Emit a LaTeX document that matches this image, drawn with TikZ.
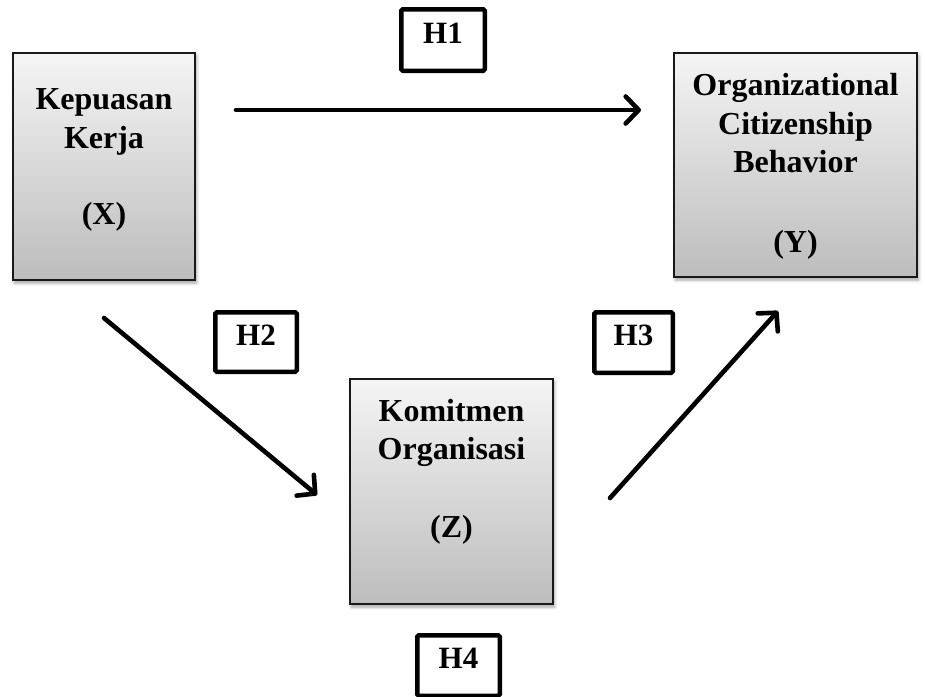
\documentclass[tikz,border=0pt]{standalone}
\usepackage{fontspec}
\setmainfont{Liberation Serif}
\usetikzlibrary{arrows.meta,shadows,shadows.blur}
\tikzset{
  mainbox/.style={draw=black!90, line width=1.6pt, top color=black!4, bottom color=black!26,
    blur shadow={shadow xshift=1.5pt, shadow yshift=-3pt, shadow blur radius=3pt, shadow opacity=35},
    inner sep=0pt},
  hbox/.style={draw=black, line width=4.5pt, rounded corners=1.5pt, fill=white,
    font=\fontsize{31}{35}\selectfont\bfseries, text height=0.66em, text depth=0pt, inner sep=0pt},
  lbl/.style={font=\fontsize{32}{36}\selectfont\bfseries, anchor=base, inner sep=0pt},
  link/.style={line width=4.6pt, line cap=round, -{Straight Barb[length=13pt,width=27pt,round]}},
}
\begin{document}
\begin{tikzpicture}[x=1pt,y=-1pt]
\useasboundingbox (0,0) rectangle (926,696);
% main boxes
\node[mainbox, minimum width=182.4pt, minimum height=227.4pt] (X) at (104,166.5) {};
\node[mainbox, minimum width=243.4pt, minimum height=224.4pt] (Y) at (795.5,165) {};
\node[mainbox, minimum width=203.4pt, minimum height=225.4pt] (Z) at (451.5,491.5) {};
% texts
\node[lbl] (x1) at (104,109) {Kepuasan};
\node[lbl] (x2) at (104,148) {Kerja};
\node[lbl] (x3) at (104,224) {(X)};
\node[lbl] (y1) at (795.5,95) {Organizational};
\node[lbl] (y2) at (795.5,134) {Citizenship};
\node[lbl] (y3) at (795.5,172) {Behavior};
\node[lbl] (y4) at (795.5,252) {(Y)};
\node[lbl] (z1) at (451.5,421) {Komitmen};
\node[lbl] (z2) at (451.5,459) {Organisasi};
\node[lbl] (z3) at (451.5,537) {(Z)};
% hypothesis labels
\node[hbox, minimum width=83.5pt, minimum height=61.5pt] (H1) at (443,40) {H1};
\node[hbox, minimum width=81.5pt, minimum height=59.5pt] (H2) at (256,342) {H2};
\node[hbox, minimum width=78.5pt, minimum height=60.5pt] (H3) at (633.5,342.5) {H3};
\node[hbox, minimum width=82.5pt, minimum height=60.5pt] (H4) at (458.5,665.5) {H4};
% arrows
\coordinate (a1s) at (236,110);
\coordinate (a1e) at (641,110);
\coordinate (a2s) at (104,318);
\coordinate (a2e) at (317,495);
\coordinate (a3s) at (610,498);
\coordinate (a3e) at (778,311);
\draw[link] (a1s) -- (a1e);
\draw[link] (a2s) -- (a2e);
\draw[link] (a3s) -- (a3e);
\end{tikzpicture}
\end{document}
